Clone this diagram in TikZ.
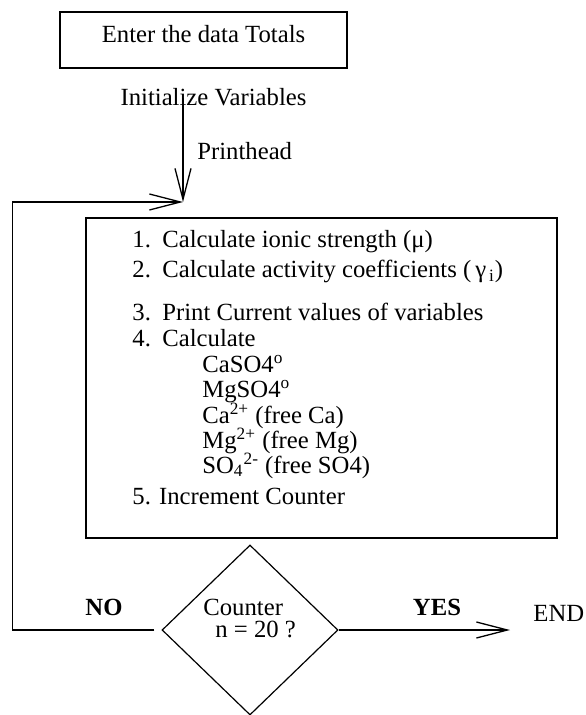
\documentclass[tikz,border=0pt]{standalone}
\usepackage{fontspec}
\setmainfont{Liberation Serif}
\usetikzlibrary{shapes.geometric, arrows.meta, positioning}
\newcommand{\diagfont}{\fontsize{12.35pt}{14.8pt}\selectfont}
\newcommand{\stepno}[1]{\makebox[15pt][l]{#1}}

\begin{document}
\begin{tikzpicture}[
  x=0.5pt, y=-0.5pt,
  every node/.style={font=\diagfont},
  box/.style={rectangle, draw, line width=0.85pt, inner sep=0pt},
  test/.style={diamond, draw, line width=0.6pt, minimum width=88pt, minimum height=85pt, inner sep=0pt},
  arr/.style={-{Straight Barb[length=15.5pt, width=8pt]}, line width=0.65pt},
  item/.style={anchor=base west, inner sep=0pt},
  lbl/.style={anchor=base, inner sep=0pt, font=\diagfont\bfseries},
]
  \useasboundingbox (0,0) rectangle (585,715);

  \node[box, minimum width=143.5pt, minimum height=28pt, text depth=6.5pt] (enter) at (203.5,40) {Enter the data Totals};
  \node[item, anchor=base] (init) at (213.5,106) {Initialize Variables};
  \node[item] (phead) at (197,160) {Printhead};
  \coordinate (join) at (183,202);

  % main loop body
  \node[box, minimum width=235.5pt, minimum height=160pt] (calc) at (321.5,378) {};
  \node[item] (s1) at (132,248) {\stepno{1.}Calculate ionic strength (μ)};
  \node[item] (s2) at (132,278) {\stepno{2.}Calculate activity coefficients (\,γ\textsubscript{\,i})};
  \node[item] (s3) at (132,321) {\stepno{3.}Print Current values of variables};
  \node[item] (s4) at (132,346) {\stepno{4.}Calculate};
  \node[item] (c1) at (202,372) {CaSO4\textsuperscript{o}};
  \node[item] (c2) at (202,397) {MgSO4\textsuperscript{o}};
  \node[item] (c3) at (202,423) {Ca\textsuperscript{2+} (free Ca)};
  \node[item] (c4) at (202,448) {Mg\textsuperscript{2+} (free Mg)};
  \node[item] (c5) at (202,473) {SO\textsubscript{4}\textsuperscript{2-} (free SO4)};
  \node[item] (s5) at (132,504) {5. Increment Counter};

  % test
  \node[test] (dec) at (250,630) {};
  \node[item] (dq1) at (203,615) {Counter};
  \node[item] (dq2) at (215,637) {n = 20 ?};
  \node[lbl] (no) at (104,615) {NO};
  \node[lbl] (yes) at (437,615) {YES};
  \node[item] (fin) at (533,621) {END};
  \coordinate (stop) at (510,630);

  \draw[arr] (init.center -| join) -- (join);
  \draw[arr] ([xshift=-3.5pt]dec.west) -- ++(-142,0) |- (join);
  \draw[arr] (dec.east) -- (stop);
\end{tikzpicture}
\end{document}
